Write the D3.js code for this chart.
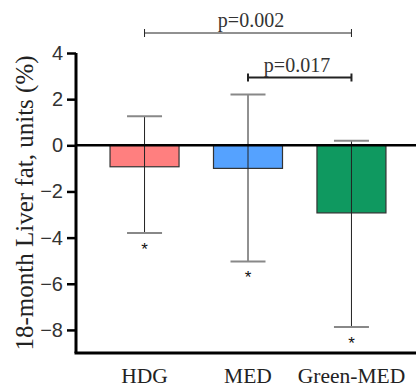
<!DOCTYPE html>
<html>
<head>
<meta charset="utf-8">
<script src="https://cdn.jsdelivr.net/npm/d3@7"></script>
<style>
  body { margin: 0; background: #fff; }
  svg { display: block; }
</style>
</head>
<body>
<svg width="416" height="387"></svg>
<script>
// groups and their change in liver fat (mean, upper and lower error bar ends)
const groups = ["HDG", "MED", "Green-MED"];
const means = [-0.93, -1.0, -2.93];
const errHigh = [1.26, 2.2, 0.2];
const errLow = [-3.8, -5.03, -7.87];
const colors = ["#FF7F7F", "#55A2FF", "#0F9960"];
const yTicks = [4, 2, 0, -2, -4, -6, -8];

// significance brackets between groups
const brackets = [
  {from: "HDG", to: "Green-MED", label: "p=0.002", level: 0},
  {from: "MED", to: "Green-MED", label: "p=0.017", level: 1}
];

const serif = "'Liberation Serif', 'Times New Roman', serif";
const sans = "'Liberation Sans', Arial, sans-serif";

const svg = d3.select("svg");
const mLeft = 76, mRight = 416, mTop = 53, mBottom = 353;

const y = d3.scaleLinear().domain([-9, 4]).range([mBottom, mTop]);
const x = d3.scaleBand().domain(groups)
  .range([79, 417]).paddingInner(0.333).paddingOuter(0.3);
const cx = d => x(d) + x.bandwidth() / 2;

// bars
svg.selectAll("rect.bar")
  .data(groups)
  .enter().append("rect")
  .attr("class", "bar")
  .attr("x", d => x(d))
  .attr("width", x.bandwidth())
  .attr("y", y(0))
  .attr("height", (d, i) => y(means[i]) - y(0))
  .attr("fill", (d, i) => colors[i])
  .attr("stroke", "#333")
  .attr("stroke-width", 1.2);

// error bars: vertical line then grey caps
svg.selectAll("line.err")
  .data(groups)
  .enter().append("line")
  .attr("x1", cx).attr("x2", cx)
  .attr("y1", (d, i) => y(errHigh[i]))
  .attr("y2", (d, i) => y(errLow[i]))
  .attr("stroke", "#222")
  .attr("stroke-width", 1);

[errHigh, errLow].forEach(arr => {
  svg.selectAll(null)
    .data(groups)
    .enter().append("line")
    .attr("x1", d => cx(d) - 17.5).attr("x2", d => cx(d) + 17.5)
    .attr("y1", (d, i) => y(arr[i]))
    .attr("y2", (d, i) => y(arr[i]))
    .attr("stroke", "#888")
    .attr("stroke-width", 2);
});

// asterisks under the lower caps
svg.selectAll("text.star")
  .data(groups)
  .enter().append("text")
  .attr("x", cx)
  .attr("y", (d, i) => y(errLow[i]) + 22)
  .attr("text-anchor", "middle")
  .attr("font-family", sans)
  .attr("font-size", 17)
  .attr("fill", "#111")
  .text("*");

// zero line
svg.append("line")
  .attr("x1", mLeft).attr("x2", mRight)
  .attr("y1", y(0)).attr("y2", y(0))
  .attr("stroke", "#000").attr("stroke-width", 2.5);

// y axis
const yAxis = svg.append("g")
  .attr("transform", `translate(${mLeft},0)`)
  .call(d3.axisLeft(y).tickValues(yTicks).tickSize(9).tickPadding(4));
yAxis.select(".domain").attr("stroke-width", 3).attr("d", `M0,${mTop}V${mBottom}`);
yAxis.selectAll(".tick line").attr("stroke-width", 2.5);
yAxis.selectAll(".tick text")
  .attr("font-family", sans)
  .attr("font-size", 20)
  .attr("fill", "#333");

// bottom axis line
svg.append("line")
  .attr("x1", mLeft - 1.5).attr("x2", mRight)
  .attr("y1", mBottom).attr("y2", mBottom)
  .attr("stroke", "#000").attr("stroke-width", 3);

// group labels
svg.selectAll("text.xlab")
  .data(groups)
  .enter().append("text")
  .attr("x", cx)
  .attr("y", 383)
  .attr("text-anchor", "middle")
  .attr("font-family", serif)
  .attr("font-size", 21.5)
  .attr("fill", "#222")
  .text(d => d);

// y axis title
svg.append("text")
  .attr("transform", `translate(33,${(mTop + mBottom) / 2}) rotate(-90)`)
  .attr("text-anchor", "middle")
  .attr("font-family", serif)
  .attr("font-size", 25)
  .attr("fill", "#222")
  .text("18-month Liver fat, units (%)");

// significance brackets
const bracketY = [33, 77.5];
brackets.forEach(b => {
  const by = bracketY[b.level];
  const x1 = cx(b.from), x2 = cx(b.to);
  const sw = b.level === 0 ? 1 : 2;
  const g = svg.append("g").attr("stroke", "#222").attr("stroke-width", sw);
  g.append("line").attr("x1", x1).attr("x2", x2).attr("y1", by).attr("y2", by);
  g.append("line").attr("x1", x1).attr("x2", x1).attr("y1", by - 4).attr("y2", by + 4);
  g.append("line").attr("x1", x2).attr("x2", x2).attr("y1", by - 4).attr("y2", by + 4);
  svg.append("text")
    .attr("x", b.level === 0 ? 251 : 297)
    .attr("y", by - 6)
    .attr("text-anchor", "middle")
    .attr("font-family", serif)
    .attr("font-size", 20)
    .attr("fill", "#333")
    .text(b.label);
});
</script>
</body>
</html>
